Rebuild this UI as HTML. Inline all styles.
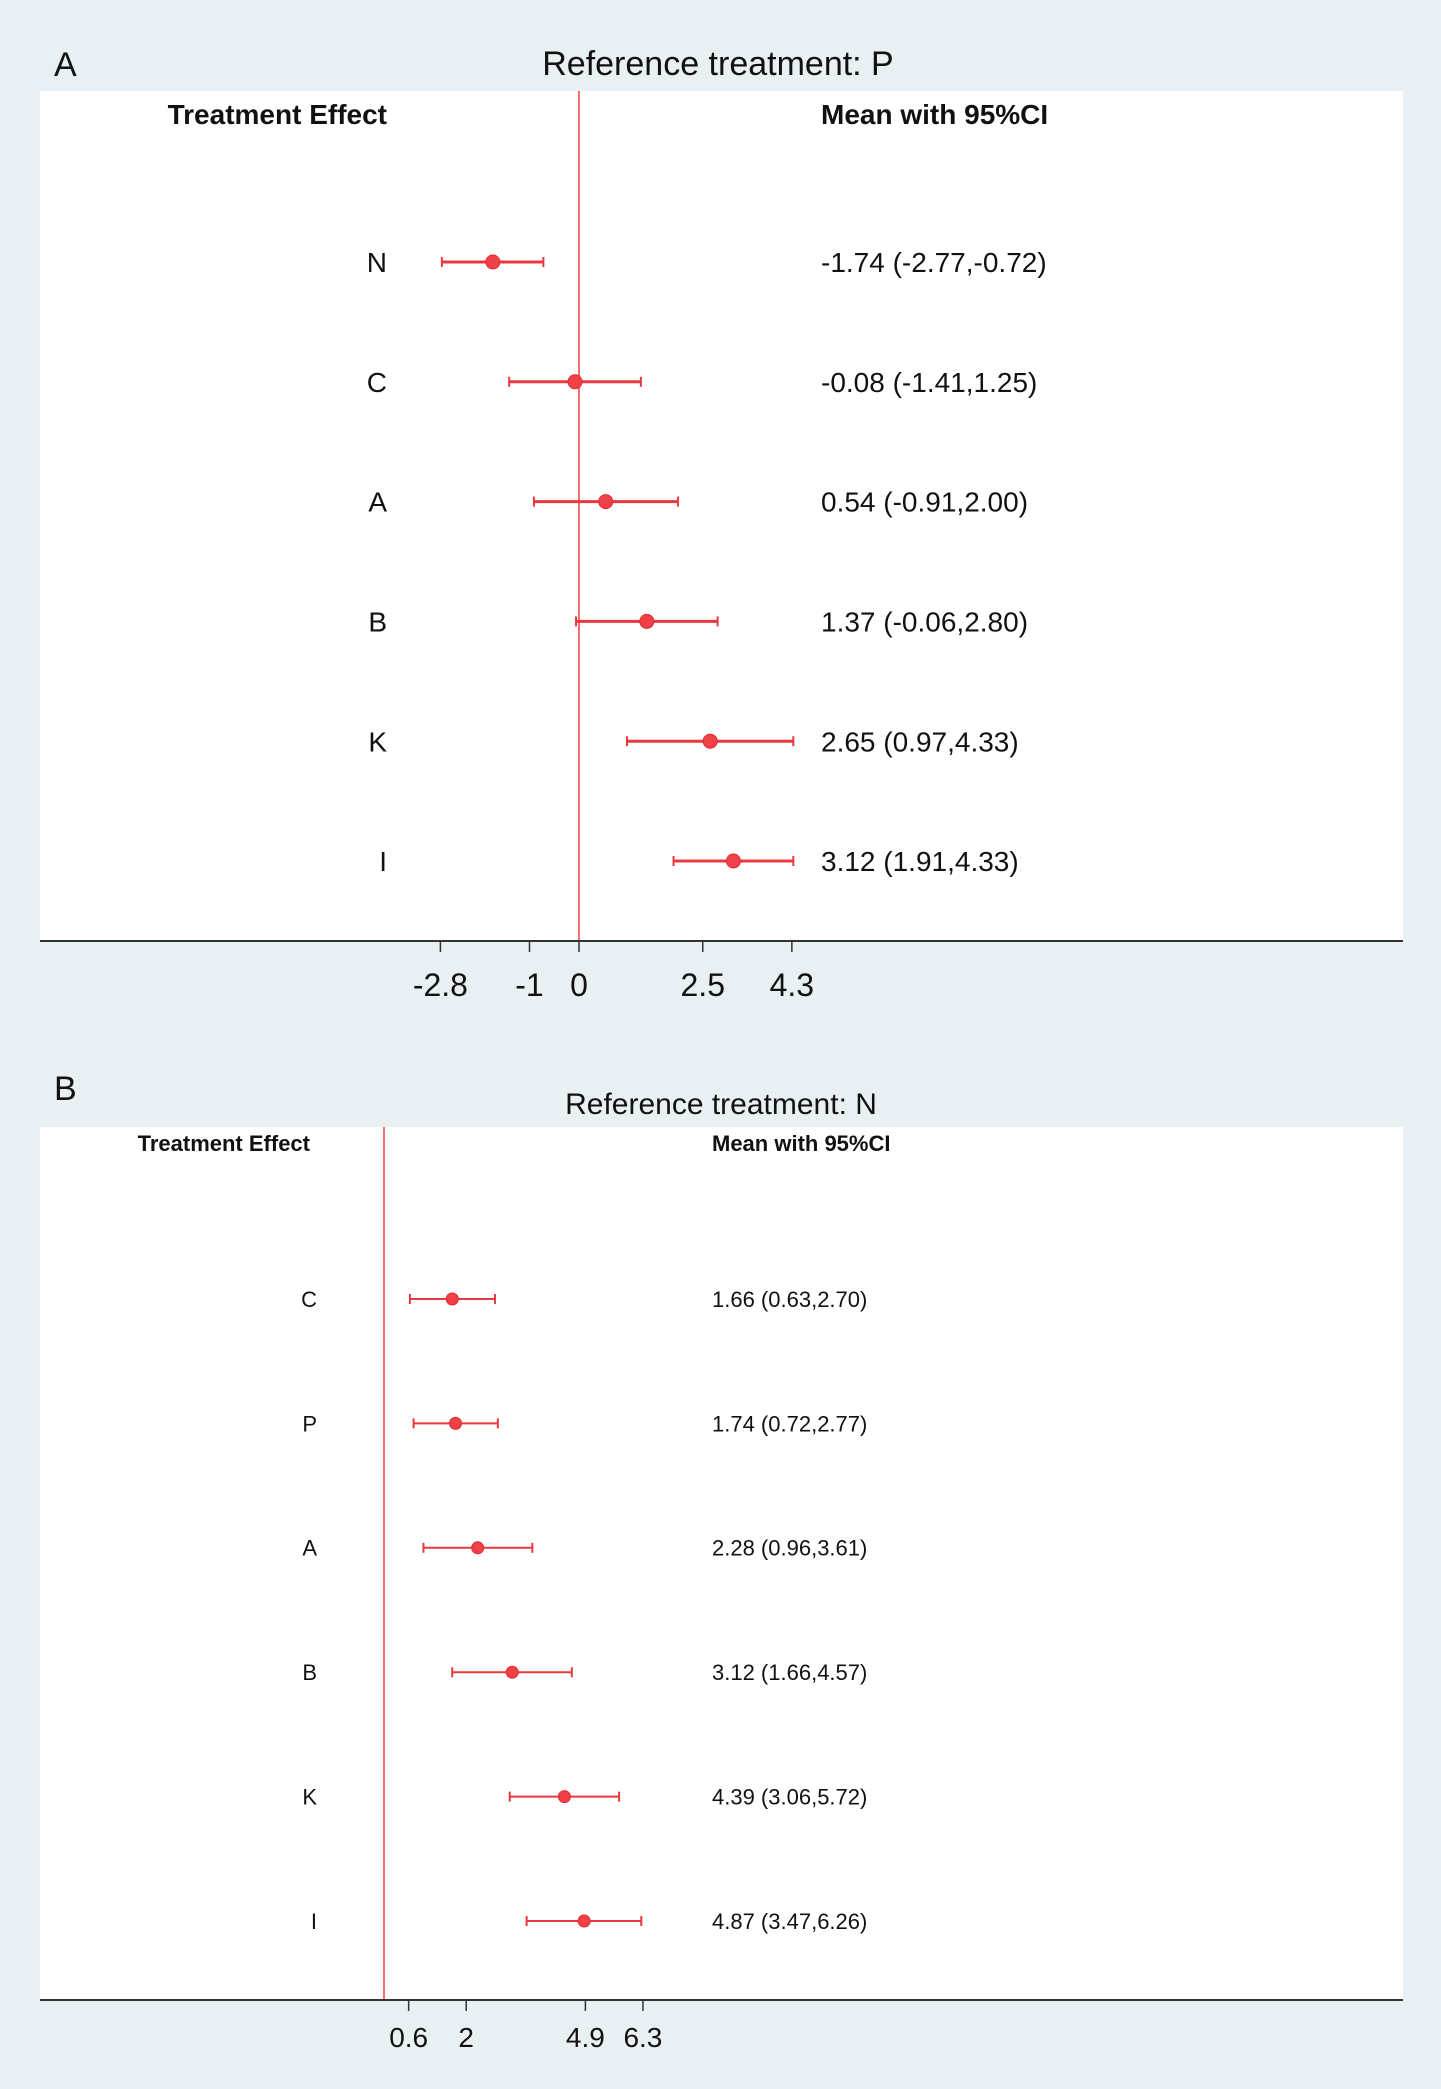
<!DOCTYPE html>
<html><head><meta charset="utf-8"><style>
html,body{margin:0;padding:0;background:#e9f0f3;}
svg{display:block;font-family:"Liberation Sans",sans-serif;}
</style></head><body>
<svg id="chart" width="1441" height="2089" viewBox="0 0 1441 2089" xmlns="http://www.w3.org/2000/svg">
<rect x="0" y="0" width="1441" height="2089" fill="#e9f0f3"/>
<g id="panelA"></g>
<g id="panelB"></g>
</svg>
<script>
const catsA = ["N","C","A","B","K","I"];
const meanA = [-1.74,-0.08,0.54,1.37,2.65,3.12];
const lowA = [-2.77,-1.41,-0.91,-0.06,0.97,1.91];
const highA = [-0.72,1.25,2.00,2.80,4.33,4.33];
const ticksA = [-2.8,-1,0,2.5,4.3];
const tickLabelsA = ["-2.8","-1","0","2.5","4.3"];

const catsB = ["C","P","A","B","K","I"];
const meanB = [1.66,1.74,2.28,3.12,4.39,4.87];
const lowB = [0.63,0.72,0.96,1.66,3.06,3.47];
const highB = [2.70,2.77,3.61,4.57,5.72,6.26];
const ticksB = [0.6,2,4.9,6.3];
const tickLabelsB = ["0.6","2","4.9","6.3"];

const NS="http://www.w3.org/2000/svg";
function mk(parent,tag,attrs,text){const e=document.createElementNS(NS,tag);for(const k in attrs)e.setAttribute(k,attrs[k]);if(text!==undefined)e.textContent=text;parent.appendChild(e);return e;}
function fmt(v){return v.toFixed(2);}

function panel(g,cfg){
  const x=v=>cfg.x0+v*cfg.k;
  const y=i=>cfg.row0+i*cfg.rowStep;
  let e;
  e=mk(g,"rect",{x:40,y:cfg.top,width:1363,height:cfg.axisY-cfg.top,fill:"#ffffff"});
  
  
  e=mk(g,"text",{x:54,y:cfg.letterY,"font-size":cfg.letterSize,fill:"#111"},cfg.letter);
  
  
  e=mk(g,"text",{x:cfg.titleX,y:cfg.titleY,"font-size":cfg.titleSize,fill:"#111","text-anchor":"middle"},cfg.title);
  
  
  e=mk(g,"text",{x:cfg.headX,y:cfg.headY,"font-size":cfg.headSize,"font-weight":"bold",fill:"#111","text-anchor":"end"},"Treatment Effect");
  
  
  e=mk(g,"text",{x:cfg.valX,y:cfg.headY,"font-size":cfg.headSize,"font-weight":"bold",fill:"#111"},"Mean with 95%CI");
  
  
  e=mk(g,"line",{x1:x(0),x2:x(0),y1:cfg.top,y2:cfg.axisY,stroke:"#f07070","stroke-width":2});
  
  
  e=mk(g,"line",{x1:40,x2:1403,y1:cfg.axisY,y2:cfg.axisY,stroke:"#333","stroke-width":2});
  
  
  cfg.ticks.forEach((t,i)=>{
    e=mk(g,"line",{x1:x(t),x2:x(t),y1:cfg.axisY,y2:cfg.axisY+11,stroke:"#333","stroke-width":1.5});
    
    
    e=mk(g,"text",{x:x(t),y:cfg.tickY,"font-size":cfg.tickSize,fill:"#111","text-anchor":"middle"},cfg.tickLabels[i]);
    
    
  });
  cfg.cats.forEach((c,i)=>{
    const yy=y(i);
    e=mk(g,"text",{x:cfg.labelX,y:yy+cfg.textSize*0.36,"font-size":cfg.textSize,fill:"#111","text-anchor":"end"},c);
    
    
    e=mk(g,"line",{x1:x(cfg.low[i]),x2:x(cfg.high[i]),y1:yy,y2:yy,stroke:"#e8393f","stroke-width":cfg.sw});
    
    
    [cfg.low[i],cfg.high[i]].forEach(v=>{
      e=mk(g,"line",{x1:x(v),x2:x(v),y1:yy-5,y2:yy+5,stroke:"#e8393f","stroke-width":2});
      
      
    });
    e=mk(g,"circle",{cx:x(cfg.mean[i]),cy:yy,r:cfg.r,fill:"#f04048",stroke:"#e02a30","stroke-width":1});
    
    
    e=mk(g,"text",{x:cfg.valX,y:yy+cfg.textSize*0.36,"font-size":cfg.textSize,fill:"#111"},fmt(cfg.mean[i])+" ("+fmt(cfg.low[i])+","+fmt(cfg.high[i])+")");
    
    
  });
}

panel(document.getElementById("panelA"),{
  cats:catsA,mean:meanA,low:lowA,high:highA,ticks:ticksA,tickLabels:tickLabelsA,
  x0:579,k:49.5,row0:262,rowStep:119.8,top:91,axisY:941,
  letter:"A",letterY:76,letterSize:34,title:"Reference treatment: P",titleX:718,titleY:75,titleSize:34,
  labelX:387,headX:387,valX:821,headY:124,headSize:28,textSize:28,tickY:996,tickSize:32,r:7,sw:3
});
panel(document.getElementById("panelB"),{
  cats:catsB,mean:meanB,low:lowB,high:highB,ticks:ticksB,tickLabels:tickLabelsB,
  x0:384,k:41.1,row0:1299,rowStep:124.4,top:1127,axisY:2000,
  letter:"B",letterY:1100,letterSize:34,title:"Reference treatment: N",titleX:721,titleY:1114,titleSize:30,
  labelX:317,headX:310,valX:712,headY:1151,headSize:22,textSize:22,tickY:2047,tickSize:28,r:6,sw:2
});
</script>
</body></html>
